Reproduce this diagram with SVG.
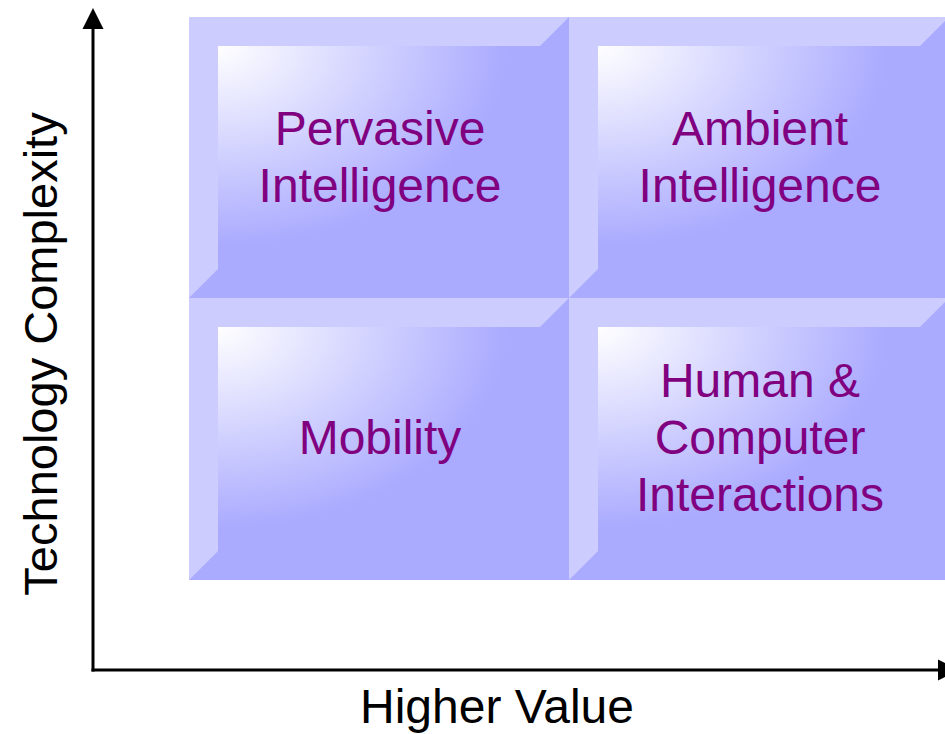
<svg xmlns="http://www.w3.org/2000/svg" width="945" height="734" viewBox="0 0 945 734">
<style>
.dark{fill:#aaaaff}
.light{fill:#ccccff}
.face{fill:url(#faceGrad)}
.lbl{font-family:"Liberation Sans",Arial,sans-serif;font-size:48px;fill:#800080;text-anchor:middle}
.axl{font-family:"Liberation Sans",Arial,sans-serif;fill:#000000;text-anchor:middle}
.axis{stroke:#000000;stroke-width:3;fill:none}
</style>
<defs>
<radialGradient id="faceGrad" cx="0" cy="0" r="1" fx="0" fy="0">
<stop offset="0" stop-color="#ffffff"/>
<stop offset="0.9" stop-color="#aaaaff"/>
</radialGradient>
<marker id="arrow" markerUnits="userSpaceOnUse" markerWidth="21" markerHeight="22" viewBox="0 -11 21 22" refX="0" refY="0" orient="auto">
<path d="M0,-10.5 L21,0 L0,10.5 Z" fill="#000000"/>
</marker>
</defs>
<rect width="945" height="734" fill="#ffffff"/>

<g id="pervasive">
<rect class="dark" x="189" y="17" width="380" height="281"/>
<polygon class="light" points="189,17 569,17 540,46 218,46 218,269 189,298"/>
<rect class="face" x="218" y="46" width="322" height="223"/>
<text class="lbl" x="380" y="145">Pervasive</text>
<text class="lbl" x="380" y="202">Intelligence</text>
</g>

<g id="ambient">
<rect class="dark" x="569" y="17" width="380" height="281"/>
<polygon class="light" points="569,17 949,17 920,46 598,46 598,269 569,298"/>
<rect class="face" x="598" y="46" width="322" height="223"/>
<text class="lbl" x="760" y="145">Ambient</text>
<text class="lbl" x="760" y="202">Intelligence</text>
</g>

<g id="mobility">
<rect class="dark" x="189" y="298" width="380" height="282"/>
<polygon class="light" points="189,298 569,298 540,327 218,327 218,551 189,580"/>
<rect class="face" x="218" y="327" width="322" height="224"/>
<text class="lbl" x="380" y="454">Mobility</text>
</g>

<g id="hci">
<rect class="dark" x="569" y="298" width="380" height="282"/>
<polygon class="light" points="569,298 949,298 920,327 598,327 598,551 569,580"/>
<rect class="face" x="598" y="327" width="322" height="224"/>
<text class="lbl" x="760" y="397">Human &amp;</text>
<text class="lbl" x="760" y="454">Computer</text>
<text class="lbl" x="760" y="511">Interactions</text>
</g>

<g id="connectors">
<line class="axis" x1="93" y1="671.5" x2="93" y2="29" marker-end="url(#arrow)"/>
<line class="axis" x1="91.5" y1="670" x2="938" y2="670" marker-end="url(#arrow)"/>
</g>

<g id="axis-labels">
<text class="axl" font-size="47" transform="translate(57,354) rotate(-90)">Technology Complexity</text>
<text class="axl" font-size="48" x="497" y="723">Higher Value</text>
</g>
</svg>
